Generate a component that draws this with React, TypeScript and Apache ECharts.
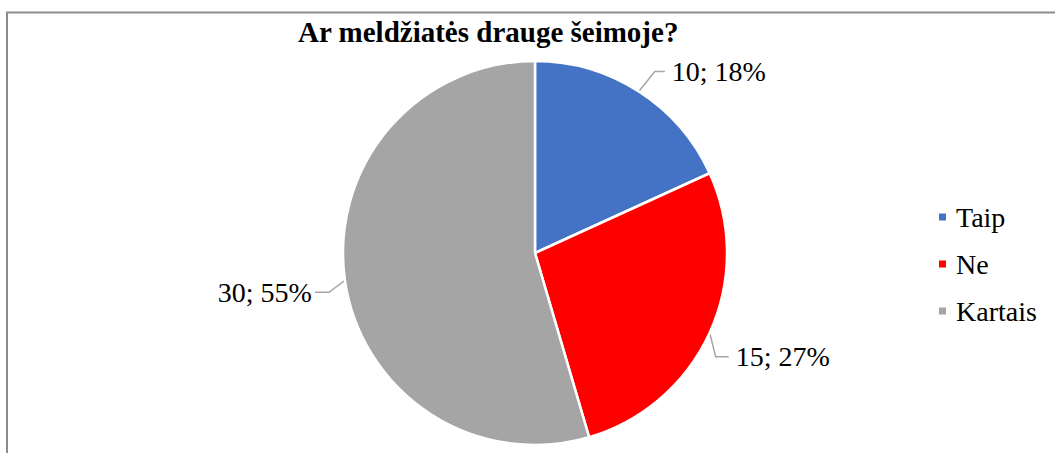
import React, { useEffect, useRef } from 'react';
import * as echarts from 'echarts';

const titleText = 'Ar meldžiatės drauge šeimoje?';
const categories = ['Taip', 'Ne', 'Kartais'];
const values = [10, 15, 30];
const colors = ['#4472C4', '#FF0000', '#A5A5A5'];

const FONT = 'Liberation Serif, Times New Roman, serif';

// leader-line shape relative to the slice edge point the library computes
const labelGuides = [
  { bend: [16, -20], end: [26, -20], gap: 7, align: 'left' },
  { bend: [6, 24], end: [19, 24], gap: 7, align: 'left' },
  { bend: [-16, 12], end: [-30, 12], gap: -3, align: 'right' },
];

export default function App() {
  const ref = useRef<HTMLDivElement>(null);
  useEffect(() => {
    if (!ref.current) return;
    const chart = echarts.init(ref.current, undefined, { renderer: 'svg' });
    chart.setOption({
      animation: false,
      backgroundColor: '#ffffff',
      textStyle: { fontFamily: FONT },
      title: {
        text: titleText,
        left: 298,
        top: 17,
        padding: 0,
        textStyle: { fontFamily: FONT, fontSize: 29, fontWeight: 'bold', color: '#000' },
      },
      legend: {
        orient: 'vertical',
        left: 937,
        top: 203,
        padding: 0,
        itemWidth: 9,
        itemHeight: 9,
        itemGap: 19,
        icon: 'rect',
        data: categories,
        textStyle: { fontFamily: FONT, fontSize: 28, color: '#000', padding: [0, 0, 0, 4] },
      },
      graphic: [
        {
          type: 'rect',
          shape: { x: 7, y: 12.5, width: 2000, height: 1000 },
          style: { fill: 'none', stroke: '#8c8c8c', lineWidth: 2 },
          silent: true,
        },
      ],
      series: [
        {
          type: 'pie',
          center: [535, 253],
          radius: 192,
          startAngle: 90,
          clockwise: true,
          percentPrecision: 0,
          itemStyle: { borderColor: '#ffffff', borderWidth: 2.5 },
          data: categories.map((name, i) => ({ name, value: values[i], itemStyle: { color: colors[i] } })),
          label: {
            show: true,
            position: 'outside',
            formatter: '{c}; {d}%',
            fontFamily: FONT,
            fontSize: 28,
            color: '#000',
          },
          labelLine: {
            show: true,
            length: 20,
            length2: 10,
            lineStyle: { color: '#A6A6A6', width: 1.5 },
          },
          labelLayout: (params: any) => {
            const g = labelGuides[params.dataIndex];
            const pts = params.labelLinePoints;
            const p0 = pts && pts[0]
              ? pts[0]
              : [params.rect.x + params.rect.width / 2, params.rect.y + params.rect.height / 2];
            const bend = [p0[0] + g.bend[0], p0[1] + g.bend[1]];
            const end = [p0[0] + g.end[0], p0[1] + g.end[1]];
            return {
              x: end[0] + g.gap,
              y: end[1],
              align: g.align,
              verticalAlign: 'middle',
              labelLinePoints: [p0, bend, end],
            };
          },
          emphasis: { disabled: true },
        },
      ],
    });
    return () => chart.dispose();
  }, []);
  return (
    <div
      ref={ref}
      style={{ position: 'fixed', left: 0, top: 0, width: 1055, height: 453 }}
    />
  );
}
